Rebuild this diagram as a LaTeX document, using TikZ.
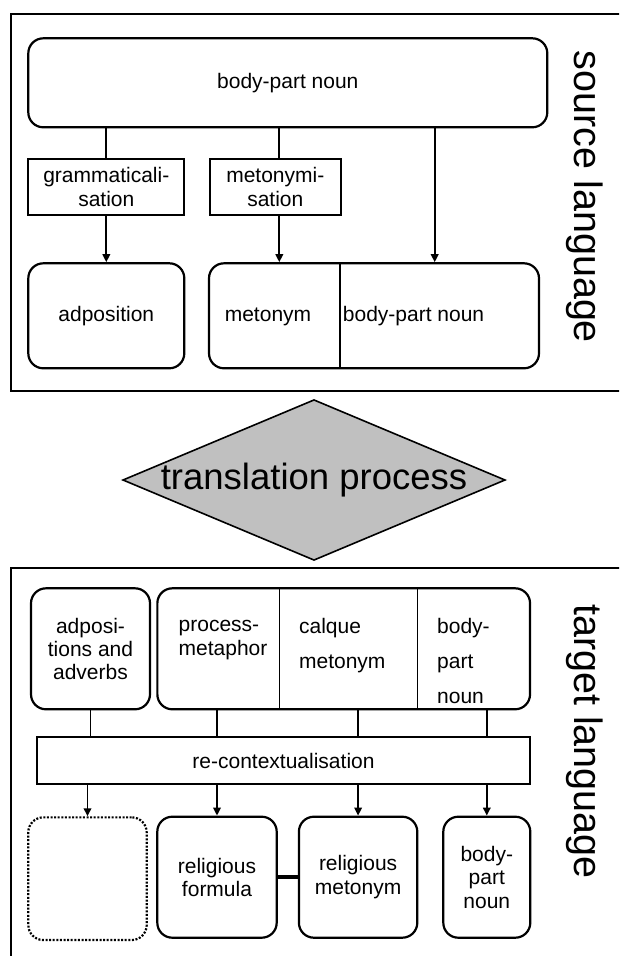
\documentclass[tikz,border=0pt]{standalone}
\usepackage{fontspec}
\setmainfont{Liberation Sans}
\usepackage{xcolor}
\usepackage{tikz}
\usetikzlibrary{arrows.meta,shapes.geometric,calc}
\definecolor{procgray}{HTML}{C0C0C0}

\begin{document}
\begin{tikzpicture}[x=1pt,y=-1pt,
  every node/.style={font=\fontsize{21}{23.3}\selectfont, inner sep=0pt},
  rbox/.style={draw, line width=2.2pt, rounded corners=15pt, align=center},
  sbox/.style={draw, line width=2pt, align=center},
  conn/.style={line width=1.9pt},
  arr/.style={conn, -{Triangle[length=8pt,width=7.5pt]}},
  side/.style={font=\fontsize{39.5}{40}\selectfont, rotate=-90},
  cell/.style={anchor=north west, align=left}]
  \useasboundingbox (0,0) rectangle (619,956);
  \clip (0,0) rectangle (619,956);
  % Source language frame
  \draw[line width=2.2pt] (640,14.3) -- (10.7,14.3) -- (10.7,390.7) -- (640,390.7);
  \node[rbox, minimum width=519pt, minimum height=89pt] (top) at (287.8,82.8) {body-part noun};
  \node[sbox, minimum width=156pt, minimum height=56pt] (gram) at (106.3,187) {grammaticali-\\sation};
  \node[sbox, minimum width=130.7pt, minimum height=56pt] (meto) at (275.3,187) {metonymi-\\sation};
  \node[rbox, minimum width=156pt, minimum height=105pt] (adp) at (106.3,315.8) {adposition};
  \node[rbox, minimum width=330pt, minimum height=105pt] (srcpair) at (374,315.8) {};
  \draw[line width=1.2pt] ([xshift=-34pt]srcpair.north) -- ([xshift=-34pt]srcpair.south);
  \node (srcmet) at (268,316.5) {metonym};
  \node[anchor=west] (srcnoun) at (342.7,316.5) {body-part noun};
  \node[side] (srclang) at (585,197) {source language};
  % Source connectors
  \draw[conn] (gram.north |- top.south) -- (gram.north);
  \draw[arr] (gram) -- (adp);
  \draw[conn] ([xshift=4pt]meto.north |- top.south) -- ([xshift=4pt]meto.north);
  \draw[arr] ([xshift=4pt]meto.south) -- ([xshift=4pt]meto.south |- srcpair.north);
  \draw[arr] ([xshift=60.7pt]srcpair.north |- top.south) -- ([xshift=60.7pt]srcpair.north);
  % Translation step
  \node[diamond, draw, fill=procgray, line width=1.6pt, aspect=2.38, inner sep=-0.7pt,
        font=\fontsize{36.5}{38}\selectfont] (trans) at (314,480) {translation process};
  % Target language frame
  \draw[line width=2.2pt] (10.7,970) -- (10.7,568.3) -- (640,568.3);
  \node[rbox, minimum width=119pt, minimum height=121pt] (adv) at (90.5,648.8) {adposi-\\tions and\\adverbs};
  \node[rbox, minimum width=372.7pt, minimum height=121pt] (tgt) at (343.7,648.8) {};
  \draw[line width=1.2pt] ([xshift=-64.4pt]tgt.north) -- ([xshift=-64.4pt]tgt.south);
  \draw[line width=1.2pt] ([xshift=74pt]tgt.north) -- ([xshift=74pt]tgt.south);
  \node[cell] (procm) at (178.5,615.4) {\strut process-\\metaphor};
  \node[cell] (calq) at (298.9,617) {\strut calque\\[11.7pt]metonym};
  \node[cell] (tgtnoun) at (437,617) {\strut body-\\[11.7pt]part\\[11.7pt]noun};
  \node[sbox, minimum width=493.5pt, minimum height=47.6pt] (rc) at (283.5,760.5) {re-contextualisation};
  \node[rbox, dash pattern=on 2pt off 1.6pt, minimum width=118.4pt, minimum height=122.7pt] (gap) at (87.5,878.7) {};
  \node[rbox, minimum width=119.4pt, minimum height=121pt] (relform) at (217,877.2) {religious\\formula};
  \node[rbox, minimum width=118.4pt, minimum height=121pt] (relmet) at (358.1,877.2) {religious\\metonym};
  \node[rbox, minimum width=87pt, minimum height=121pt] (tgtbpn) at (486.8,877.2) {body-\\part\\noun};
  \node[side] (tgtlang) at (585,741.5) {target language};
  % Target connectors
  \draw[conn] (adv) -- (adv |- rc.north);
  \draw[conn] (relform.north |- tgt.south) -- (relform.north |- rc.north);
  \draw[conn] (relmet.north |- tgt.south) -- (relmet.north |- rc.north);
  \draw[conn] (tgtbpn.north |- tgt.south) -- (tgtbpn.north |- rc.north);
  \draw[arr] (gap.north |- rc.south) -- (gap.north);
  \draw[arr] (relform.north |- rc.south) -- (relform.north);
  \draw[arr] (relmet.north |- rc.south) -- (relmet.north);
  \draw[arr] (tgtbpn.north |- rc.south) -- (tgtbpn.north);
  \draw[line width=3.5pt] (relform) -- (relmet);
\end{tikzpicture}
\end{document}
